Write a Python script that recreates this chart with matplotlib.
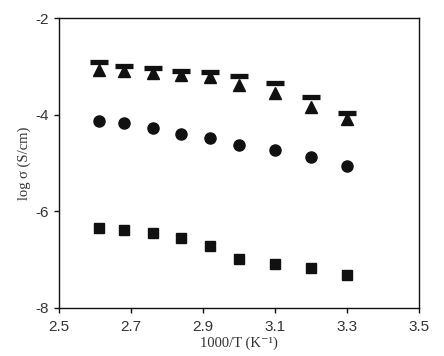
import matplotlib
matplotlib.use("Agg")
import matplotlib.pyplot as plt

# 1000/T values (K^-1)
inv_t = [2.61, 2.68, 2.76, 2.84, 2.92, 3.00, 3.10, 3.20, 3.30]

# log sigma (S/cm) for each sample
log_dash = [-2.91, -3.00, -3.04, -3.09, -3.12, -3.20, -3.35, -3.63, -3.96]
log_tri = [-3.07, -3.10, -3.14, -3.17, -3.22, -3.38, -3.54, -3.83, -4.09]
log_circ = [-4.13, -4.18, -4.27, -4.40, -4.48, -4.62, -4.73, -4.87, -5.06]
log_sq = [-6.34, -6.39, -6.45, -6.55, -6.72, -6.99, -7.10, -7.18, -7.32]

x_ticks = [2.5, 2.7, 2.9, 3.1, 3.3, 3.5]
y_ticks = [-8, -6, -4, -2]

fig = plt.figure(figsize=(4.44, 3.56), dpi=100)
ax = fig.add_axes([0.133, 0.135, 0.811, 0.814])

k = "#111111"
ax.plot(inv_t, log_dash, ls="none", marker="_", ms=13, mew=3.8, color=k)
ax.plot(inv_t, log_tri, ls="none", marker="^", ms=8.5, color=k)
ax.plot(inv_t, log_circ, ls="none", marker="o", ms=8, color=k)
ax.plot(inv_t, log_sq, ls="none", marker="s", ms=6.5, color=k)

ax.set_xlim(2.5, 3.5)
ax.set_ylim(-8, -2)
ax.set_xticks(x_ticks)
ax.set_yticks(y_ticks)
ax.set_xticklabels([f"{v:.1f}" for v in x_ticks])
ax.set_yticklabels([f"{v:d}" for v in y_ticks])

for lab in ax.get_xticklabels() + ax.get_yticklabels():
    lab.set_fontfamily("Liberation Sans")
    lab.set_fontsize(11)
    lab.set_color("#333333")

ax.tick_params(direction="out", length=3.5, width=1, color=k)
ax.tick_params(axis="x", pad=5)
ax.tick_params(axis="y", pad=4)
for s in ax.spines.values():
    s.set_linewidth(1)
    s.set_color(k)

serif = ["Liberation Serif", "DejaVu Serif"]
ax.set_ylabel("log \u03c3 (S/cm)", family=serif, fontsize=10.5,
              color="#333333", labelpad=3)
ax.set_xlabel("1000/T (K\u207b\u00b9)", family=serif, fontsize=10.5,
              color="#333333", labelpad=2)

fig.savefig("out.png", dpi=100)
